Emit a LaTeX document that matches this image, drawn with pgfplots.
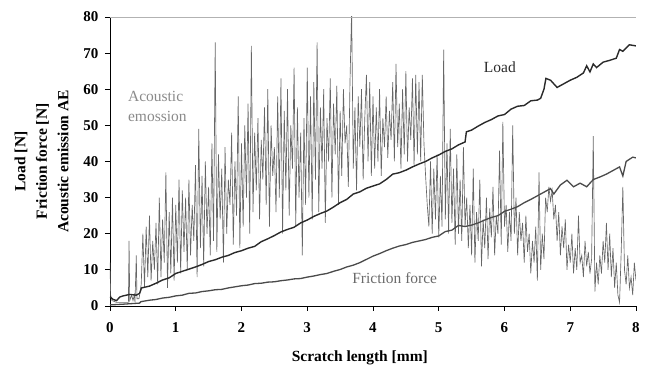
\documentclass[border=0pt]{standalone}
\usepackage{pgfplots}
\pgfplotsset{compat=1.18}
\usepackage{fontspec}
\setmainfont{Liberation Serif}
\definecolor{loadc}{HTML}{2A2A2A}
\definecolor{fricc}{HTML}{4A4A4A}
\definecolor{aec}{HTML}{666666}
\definecolor{aetxt}{HTML}{8A8A8A}
\definecolor{frtxt}{HTML}{6A6A6A}
\begin{document}
\begin{tikzpicture}
\begin{axis}[
  scale only axis, width=526pt, height=289pt,
  xmin=0, xmax=8, ymin=0, ymax=80,
  xtick={0,1,...,8}, ytick={0,10,...,80},
  axis x line*=bottom, axis y line*=left,
  axis line style={-, black, line width=0.8pt},
  tick align=outside, major tick length=5pt,
  tick style={black, line width=0.8pt},
  /pgf/number format/assume math mode=true,
  tick label style={font=\fontsize{15}{17}\selectfont\bfseries},
  xticklabel shift=8pt,
  yticklabel shift=3pt,
  xlabel={Scratch length [mm]},
  xlabel style={font=\fontsize{15.5}{17}\selectfont\bfseries, at={(axis description cs:0.475,-0.18)}, anchor=center},
  ylabel={Load [N]\\Friction force [N]\\Acoustic emission AE},
  ylabel style={align=center, font=\fontsize{15.5}{21.5}\selectfont\bfseries, at={(axis description cs:-0.130,0.5)}, anchor=center},
]
% Acoustic emission: initial segment
\addplot[aec, line width=0.65pt] coordinates {
(0,12) (0.01,3) (0.03,1.5) (0.1,1) (0.2,1) (0.28,1) (0.29,18) (0.3,1.5) (0.33,3) (0.35,1.5) (0.37,3) (0.38,1) (0.4,14) (0.41,2) (0.44,2) (0.45,3) (0.475,6)
};
% Acoustic emission: from 0.475 mm in steps of 0.025 mm
\addplot[aec, line width=0.65pt] table[x expr=0.475+\coordindex*0.025, y=ae] {
ae
6
20
5
22
8
25
7
18
10
23
6
30
8
24
12
37
5
26
9
30
7
28
12
35
9
32
15
30
10
35
14
28
18
39
8
49
16
36
11
40
20
33
14
45
18
73
15
42
24
38
12
44
20
35
28
48
17
40
25
58
16
45
22
50
30
56
20
72
26
48
32
52
24
46
35
55
28
60
22
50
36
44
26
58
30
63
20
54
32
60
25
50
38
66
22
55
30
48
14
52
28
66
30
58
24
62
35
73
26
55
38
60
23
52
40
63
30
56
42
61
28
54
36
60
45
50
33
62
82
38
55
32
58
44
60
35
52
64
40
62
36
58
38
55
40
60
36
52
44
58
41
54
46
62
40
67
44
56
38
60
42
65
40
55
46
63
39
64
42
62
40
64
45
36
28
22
40
20
38
24
42
19
36
22
71
24
45
20
49
23
38
17
42
20
35
18
44
22
30
16
28
14
38
12
26
18
35
11
24
16
30
13
27
19
33
14
25
20
43
17
51
22
28
15
26
18
50
20
30
14
26
18
23
12
25
15
20
9
18
12
22
7
37
10
20
13
30
26
33
29
32
24
28
18
26
14
22
16
24
10
17
12
20
9
16
10
25
12
14
8
18
11
15
9
13
47
4
12
6
14
9
18
12
23
10
20
8
16
5
12
3
1
15
33
10
6
14
5
8
3
12
7
};
% Friction force
\addplot[fricc, line width=1.3pt] coordinates {
(0,0.3) (0.2,0.5) (0.45,0.8) (0.47,1.2) (0.6,1.6) (0.7,1.8) (0.8,2.2) (0.9,2.4) (1.0,2.8) (1.1,3.0) (1.2,3.5) (1.3,3.6) (1.4,4.0) (1.5,4.2) (1.6,4.5) (1.7,4.6) (1.8,5.0) (1.9,5.3) (2.0,5.6) (2.1,5.8) (2.2,6.2) (2.3,6.3) (2.4,6.6) (2.5,6.7) (2.6,7.0) (2.7,7.2) (2.8,7.5) (2.9,7.6) (3.0,8.0) (3.1,8.3) (3.2,8.7) (3.3,9.0) (3.4,9.6) (3.5,10.1) (3.6,10.8) (3.7,11.3) (3.8,12.0) (3.9,12.9) (4.0,13.8) (4.1,14.5) (4.2,15.3) (4.3,16.0) (4.4,16.6) (4.5,17.0) (4.6,17.6) (4.7,18.0) (4.8,18.4) (4.9,19.0) (5.0,19.4) (5.1,20.6) (5.2,21.0) (5.3,22.3) (5.4,22.0) (5.5,22.4) (5.6,23.0) (5.7,23.8) (5.8,24.5) (5.9,25.0) (6.0,26.2) (6.1,26.8) (6.2,27.5) (6.3,28.6) (6.4,29.5) (6.5,30.5) (6.6,31.5) (6.7,32.5) (6.75,31.0) (6.85,33.5) (6.95,34.8) (7.05,33.0) (7.15,34.0) (7.25,33.0) (7.35,35.0) (7.45,35.7) (7.55,36.5) (7.65,37.5) (7.75,38.5) (7.8,36.0) (7.85,40.0) (7.95,41.2) (8.0,41.0)
};
% Load
\addplot[loadc, line width=1.4pt] coordinates {
(0,2.5) (0.05,1.8) (0.1,1.5) (0.15,2.5) (0.2,2.8) (0.3,3.2) (0.4,3.0) (0.45,3.5) (0.48,5.0) (0.6,5.5) (0.7,6.3) (0.8,7.2) (0.9,7.8) (1.0,9.0) (1.1,9.6) (1.2,10.2) (1.3,10.8) (1.4,11.5) (1.5,12.3) (1.6,12.8) (1.7,13.5) (1.8,14.0) (1.9,14.8) (2.0,15.3) (2.1,16.0) (2.2,16.5) (2.3,17.8) (2.4,18.6) (2.5,19.5) (2.6,20.5) (2.7,21.2) (2.8,21.8) (2.9,23.0) (3.0,23.8) (3.1,24.8) (3.2,25.6) (3.3,26.3) (3.4,27.4) (3.5,28.6) (3.6,29.5) (3.7,31.0) (3.8,31.6) (3.9,32.6) (4.0,33.2) (4.1,33.8) (4.2,35.0) (4.3,36.5) (4.4,36.9) (4.5,37.6) (4.6,38.5) (4.7,39.3) (4.8,40.0) (4.9,41.0) (5.0,41.8) (5.1,42.8) (5.2,43.5) (5.3,44.6) (5.4,45.4) (5.42,48.2) (5.5,48.7) (5.6,49.8) (5.7,50.8) (5.8,51.6) (5.9,52.6) (6.0,53.0) (6.1,54.5) (6.2,55.3) (6.3,55.5) (6.4,56.8) (6.5,57.0) (6.55,57.5) (6.6,60.0) (6.63,63.0) (6.7,62.5) (6.8,60.5) (6.9,61.5) (7.0,62.5) (7.1,63.3) (7.2,64.5) (7.25,66.5) (7.3,64.8) (7.35,67.0) (7.4,66.0) (7.5,67.5) (7.6,68.0) (7.7,68.6) (7.75,71.0) (7.8,70.5) (7.9,72.3) (8.0,72.0)
};
\draw[gray!60, line width=0.6pt] (rel axis cs:0,1) -- (rel axis cs:1,1) -- (rel axis cs:1,0);
\node[aetxt, align=left, font=\fontsize{15.5}{20}\selectfont] at (axis cs:0.72,55.3) {Acoustic\\emossion};
\node[loadc, font=\fontsize{15.5}{18}\selectfont] at (axis cs:5.93,66) {Load};
\node[frtxt, font=\fontsize{15.5}{18}\selectfont] at (axis cs:4.33,7.7) {Friction force};
\coordinate (ll) at (rel axis cs:0,0);
\coordinate (ur) at (rel axis cs:1,1);
\end{axis}
\path ([shift={(-110pt,-65pt)}]ll) rectangle ([shift={(10pt,17pt)}]ur);
\end{tikzpicture}
\end{document}
